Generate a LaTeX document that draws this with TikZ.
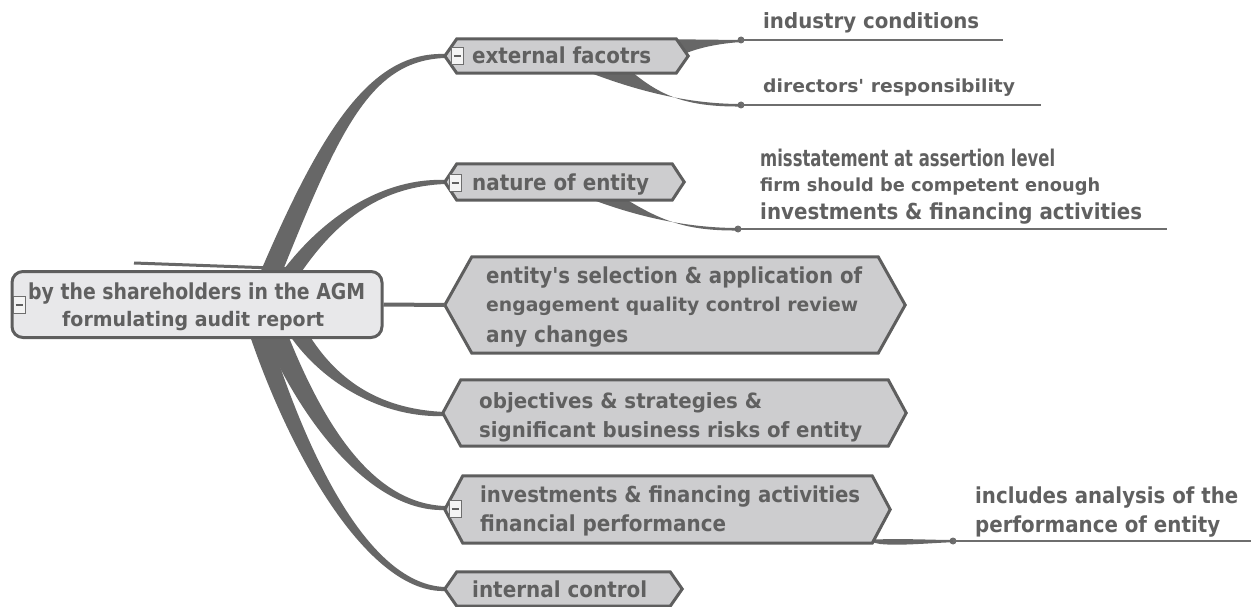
\documentclass[tikz,border=0pt]{standalone}
\usepackage{fontspec}
\setmainfont{DejaVu Sans}
\newfontfamily\condf{DejaVu Sans Condensed}
\usepackage{graphicx}
\usetikzlibrary{calc}
\definecolor{txtc}{HTML}{606060}
\definecolor{bordc}{HTML}{5E5E5E}
\definecolor{brc}{HTML}{676767}
\definecolor{hexf}{HTML}{CDCDCF}
\definecolor{rootf}{HTML}{E8E8EA}
\definecolor{linec}{HTML}{6E6E6E}
\definecolor{boxf}{HTML}{F4F4F4}
\newsavebox\fitbox
\newlength\fitlen
\newcommand\fitto[3]{\sbox\fitbox{\fontsize{#2}{#2}\selectfont\bfseries #3}\setlength\fitlen{\wd\fitbox}\pgfmathsetmacro\fitfac{#1/\fitlen}\scalebox{\fitfac}[1]{\usebox\fitbox}}
\newcommand\fitc[3]{\sbox\fitbox{\fontsize{#2}{#2}\selectfont\condf\bfseries #3}\setlength\fitlen{\wd\fitbox}\pgfmathsetmacro\fitfac{#1/\fitlen}\scalebox{\fitfac}[1]{\usebox\fitbox}}
\tikzset{
  lbl/.style={inner sep=0pt, anchor=base west, text=txtc},
  hexbody/.style={inner sep=0pt, draw=none},
  hexline/.style={draw=bordc, fill=hexf, line width=3pt, line join=miter},
  rootbox/.style={draw=bordc, fill=rootf, line width=3pt, rounded corners=11pt, inner sep=0pt},
  minusbox/.style={draw=linec, fill=boxf, line width=1pt, inner sep=0pt, minimum width=12pt, minimum height=17pt,
    path picture={\draw[txtc, line width=1.6pt] ([xshift=-3.5pt]path picture bounding box.center) -- ([xshift=3.5pt]path picture bounding box.center);}},
  branchc/.style={fill=brc},
  subline/.style={draw=linec, line width=2pt},
  dotc/.style={circle, fill=linec, inner sep=0pt, minimum size=7pt},
}
% hexagon node: name, x1, x2, y1, y2, depth
\newcommand\hexnode[6]{%
  \node[hexbody, minimum width={(#3-#2)*1pt}, minimum height={(#5-#4)*1pt}] (#1) at ({(#2+#3)/2},{(#4+#5)/2}) {};
  \draw[hexline] (#1.west) -- ([xshift=#6pt]#1.north west) -- ([xshift=-#6pt]#1.north east) -- (#1.east)
    -- ([xshift=-#6pt]#1.south east) -- ([xshift=#6pt]#1.south west) -- cycle;}
% tapered branch: start, c1, c2, end, half width at base
\newcommand\taper[5]{%
  \fill[branchc] ($(#1)+(-#5,0)$) .. controls ($(#2)+(-#5*0.85,0)$) and ($(#3)+(0,-4.5)$) .. ($(#4)+(0,-2)$)
    -- ($(#4)+(0,2)$) .. controls ($(#3)+(0,4.5)$) and ($(#2)+(#5*0.85,0)$) .. ($(#1)+(#5,0)$) -- cycle;}
\begin{document}
\begin{tikzpicture}[x=1pt,y=-1pt]
\useasboundingbox (0,0) rectangle (1251,607);
% anchor coordinates
\coordinate (rA) at (268,280);
\coordinate (rB) at (286,280);
\coordinate (rC) at (296,330);
\coordinate (rD) at (274,330);
\coordinate (rE) at (258,330);
\coordinate (ovA) at (134,263);
\coordinate (ovB) at (300,269);
% branches
\taper{rA}{330,130}{370,56}{445,56}{11}
\taper{rB}{330,215}{385,182}{445,182}{10}
\taper{rC}{330,385}{385,414}{445,414}{-10}
\taper{rD}{315,430}{375,508}{445,508}{-12}
\taper{rE}{300,460}{370,589}{445,589}{-10}
\draw[brc, line width=3pt] (ovA) -- (ovB);
% sub-branch dots
\node[dotc] (d1) at (741,40) {};
\node[dotc] (d2) at (741,105) {};
\node[dotc] (d3) at (738,229) {};
\node[dotc] (d4) at (953,541) {};
\fill[branchc] (650,39) -- (d1.center) -- ($(d1.center)+(0,2)$) .. controls (712,44) and (690,50) .. (676,58) -- cycle;
\fill[branchc] (588,72) .. controls (640,92) and (690,104) .. ($(d2.center)+(0,-1)$) -- ($(d2.center)+(0,1.5)$) .. controls (685,107) and (660,95) .. (632,72) -- cycle;
\fill[branchc] (588,198) .. controls (640,218) and (690,228) .. ($(d3.center)+(0,-1)$) -- ($(d3.center)+(0,1.5)$) .. controls (685,231) and (660,220) .. (624,198) -- cycle;
\fill[branchc] (862,540) .. controls (900,538) and (930,540) .. ($(d4.center)+(0,-1)$) -- ($(d4.center)+(0,1.2)$) .. controls (930,543) and (900,546) .. (880,544) -- cycle;
\coordinate (e1) at (1003,40);
\coordinate (e2) at (1041,105);
\coordinate (e3) at (1167,229);
\coordinate (e4) at (1251,541);
\draw[subline] (d1.center) -- (e1);
\draw[subline] (d2.center) -- (e2);
\draw[subline] (d3.center) -- (e3);
\draw[subline] (d4.center) -- (e4);
% root
\node[rootbox, minimum width=370pt, minimum height=66pt] (root) at (197,304.5) {};
\hexnode{ext}{445}{688}{39}{73}{12}
\hexnode{nat}{445}{684}{164}{200}{12}
\hexnode{ent}{445}{905}{257}{353}{27}
\hexnode{obj}{443}{906}{380}{446}{18}
\hexnode{inv}{445}{890}{476}{543}{18}
\hexnode{int}{445}{682}{572}{606}{12}
\draw[brc, line width=4pt] (root.east) -- (ent.west);
% collapse boxes
\node[minusbox] (m0) at (19,305) {};
\node[minusbox] (m1) at (457,56) {};
\node[minusbox] (m2) at (455,183) {};
\node[minusbox] (m3) at (455,509) {};
% texts
\node[lbl] (t0a) at (28,299) {\fitto{337}{22}{by the shareholders in the AGM}};
\node[lbl] (t0b) at (62,326) {\fitto{262}{20}{formulating audit report}};
\node[lbl] (t1) at (472,64) {\fitto{179}{22}{external facotrs}};
\node[lbl] (t2) at (472,190) {\fitto{177}{22}{nature of entity}};
\node[lbl] (t3a) at (486,283) {\fitto{376}{22}{entity\textquotesingle s selection \& application of}};
\node[lbl] (t3b) at (486,311) {\fitto{372}{19}{engagement quality control review}};
\node[lbl] (t3c) at (486,342) {\fitto{142}{22}{any changes}};
\node[lbl] (t4a) at (479,408) {\fitto{283}{21}{objectives \& strategies \&}};
\node[lbl] (t4b) at (479,437) {\fitto{383}{21}{significant business risks of entity}};
\node[lbl] (t5a) at (480,502) {\fitto{380}{22}{investments \& financing activities}};
\node[lbl] (t5b) at (480,531) {\fitto{246}{22}{financial performance}};
\node[lbl] (t6) at (472,597) {\fitto{175}{22}{internal control}};
\node[lbl] (s1) at (763,29) {\fitto{216}{21}{industry conditions}};
\node[lbl] (s2) at (763,93) {\fitto{252}{18}{directors\textquotesingle\ responsibility}};
\node[lbl] (s3a) at (760,167) {\fitc{295}{23}{misstatement at assertion level}};
\node[lbl] (s3b) at (760,191) {\fitto{340}{18}{firm should be competent enough}};
\node[lbl] (s3c) at (760,219) {\fitto{382}{22}{investments \& financing activities}};
\node[lbl] (s4a) at (975,503) {\fitto{263}{22}{includes analysis of the}};
\node[lbl] (s4b) at (975,532) {\fitto{245}{22}{performance of entity}};
\end{tikzpicture}
\end{document}
